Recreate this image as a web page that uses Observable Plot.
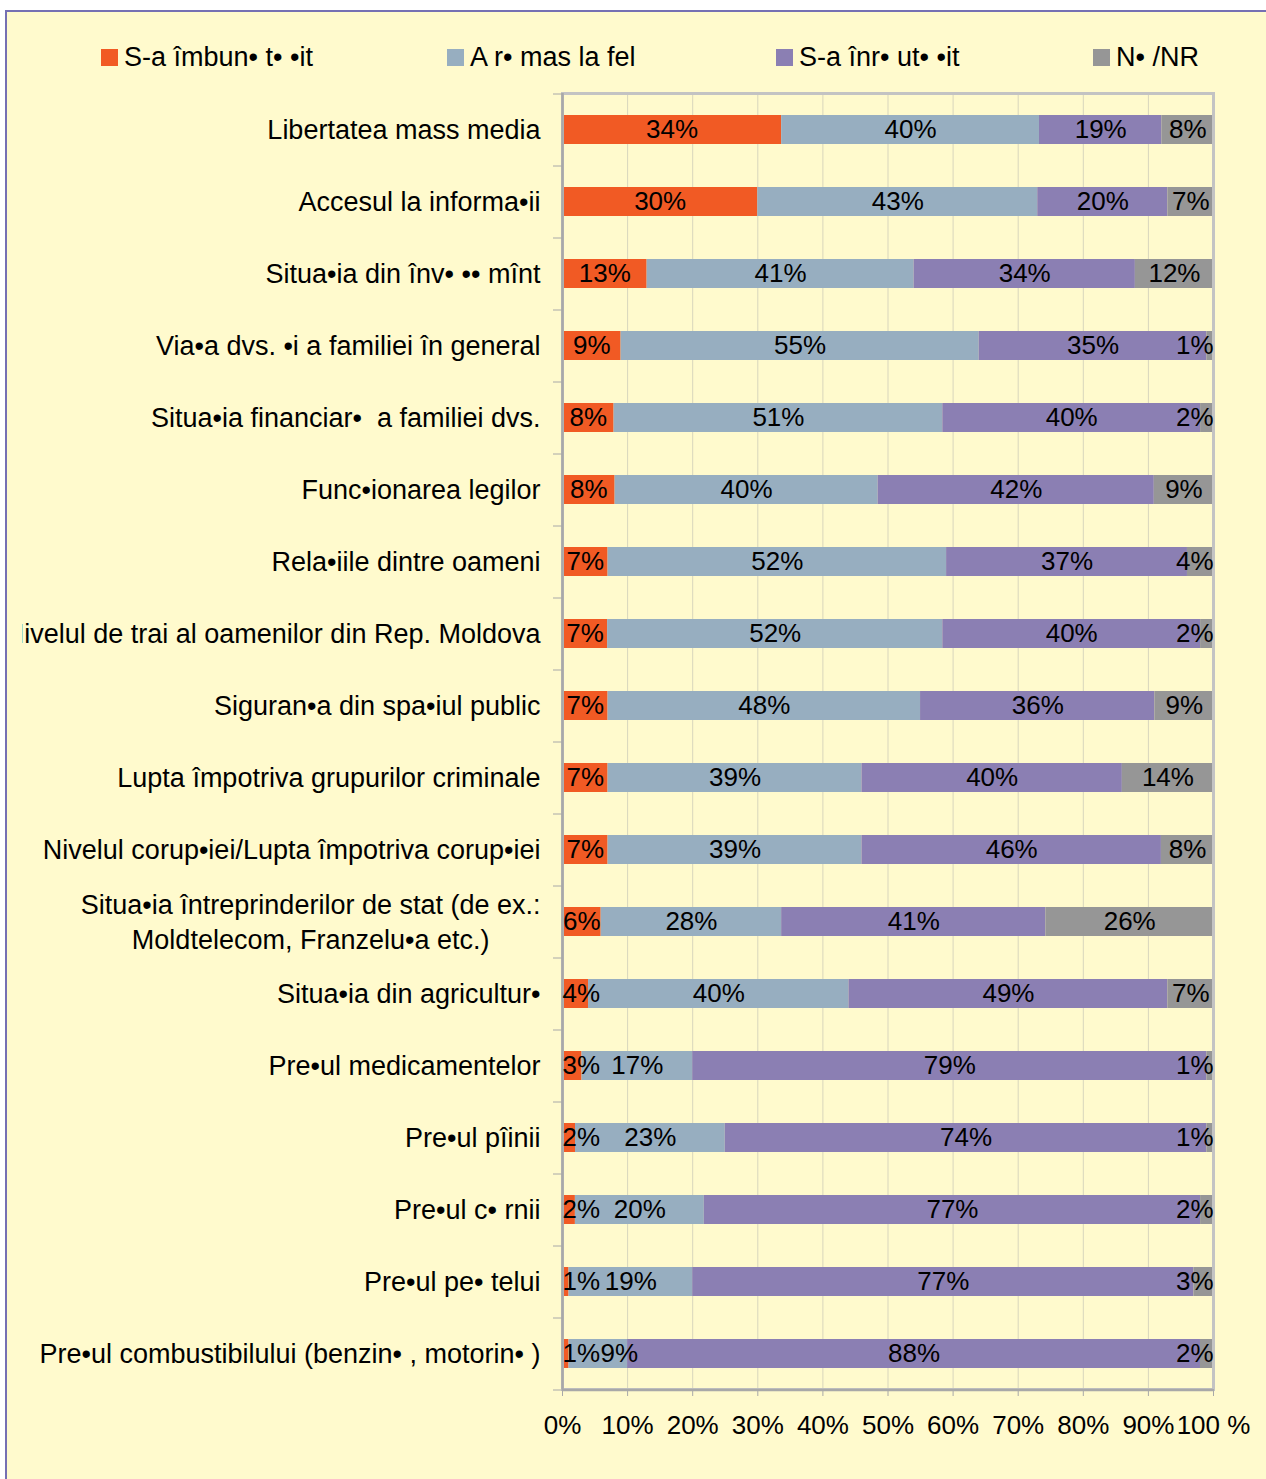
<!DOCTYPE html>
<html><head><meta charset="utf-8">
<script src="https://cdn.jsdelivr.net/npm/d3@7"></script>
<script src="https://cdn.jsdelivr.net/npm/@observablehq/plot@0.6"></script>
<style>
html,body{margin:0;padding:0;background:#fff;overflow:hidden;width:1266px;height:1479px;}
#frame{position:absolute;left:5px;top:10px;width:1320px;height:1520px;background:#FFFACD;border-left:2px solid #7570B3;border-top:2px solid #7570B3;font-family:"Liberation Sans",Arial,sans-serif;color:#000;}
#legend{position:absolute;left:0;top:30px;width:1260px;height:30px;font-size:27px;white-space:pre;line-height:30px;}
.item{position:absolute;top:0;display:flex;align-items:center;}
.sw{width:17px;height:17px;margin-right:6px;}
#chart{position:absolute;left:15px;top:70px;}
</style></head><body>
<div id="frame"><div id="legend"></div><div id="chart"></div></div>
<script>
const categories = [
  "Libertatea mass media",
  "Accesul la informa•ii",
  "Situa•ia din înv• •• mînt",
  "Via•a dvs. •i a familiei în general",
  "Situa•ia financiar•  a familiei dvs.",
  "Func•ionarea legilor",
  "Rela•iile dintre oameni",
  "Nivelul de trai al oamenilor din Rep. Moldova",
  "Siguran•a din spa•iul public",
  "Lupta împotriva grupurilor criminale",
  "Nivelul corup•iei/Lupta împotriva corup•iei",
  "Situa•ia întreprinderilor de stat (de ex.:\nMoldtelecom, Franzelu•a etc.)",
  "Situa•ia din agricultur•",
  "Pre•ul medicamentelor",
  "Pre•ul pîinii",
  "Pre•ul c• rnii",
  "Pre•ul pe• telui",
  "Pre•ul combustibilului (benzin• , motorin• )"
];
const seriesNames = ["S-a îmbun• t• •it", "A r• mas la fel", "S-a înr• ut• •it", "N• /NR"];
const improved = [34, 30, 13, 9, 8, 8, 7, 7, 7, 7, 7, 6, 4, 3, 2, 2, 1, 1];
const same     = [40, 43, 41, 55, 51, 40, 52, 52, 48, 39, 39, 28, 40, 17, 23, 20, 19, 9];
const worse    = [19, 20, 34, 35, 40, 42, 37, 40, 36, 40, 46, 41, 49, 79, 74, 77, 77, 88];
const dk       = [8, 7, 12, 1, 2, 9, 4, 2, 9, 14, 8, 26, 7, 1, 1, 2, 3, 2];
const colors = ["#F15A24", "#97AEC0", "#8B7FB3", "#969696"];
const xTicks = [0, 0.1, 0.2, 0.3, 0.4, 0.5, 0.6, 0.7, 0.8, 0.9, 1];
const xTickLabels = ["0%", "10%", "20%", "30%", "40%", "50%", "60%", "70%", "80%", "90%", "100 %"];
const legendLeft = [94, 440, 769, 1086];

// legend
const legend = document.getElementById("legend");
seriesNames.forEach((s, j) => {
  const it = document.createElement("div"); it.className = "item"; it.style.left = legendLeft[j] + "px";
  const sw = document.createElement("div"); sw.className = "sw"; sw.style.background = colors[j];
  const tx = document.createElement("span"); tx.textContent = s;
  it.appendChild(sw); it.appendChild(tx); legend.appendChild(it);
});

const W = 1244, H = 1397, mL = 540, mR = 53, mT = 11, mB = 90;
const plotW = W - mL - mR;
const ctx = document.createElement("canvas").getContext("2d");
function tw(s, size) { ctx.font = size + "px 'Liberation Sans', Arial, sans-serif"; return ctx.measureText(s).width; }

const series = [improved, same, worse, dk];
const rows = [];
categories.forEach((c, i) => {
  const vals = series.map(s => s[i]);
  const total = d3.sum(vals);
  let cum = 0, prevRight = -Infinity;
  vals.forEach((v, j) => {
    const x1 = cum / total; cum += v; const x2 = cum / total;
    const label = v + "%";
    const hw = tw(label, 26) / 2 / plotW;
    let mid = Math.min(Math.max((x1 + x2) / 2, hw), 1 - hw);
    if (mid - hw < prevRight) mid = prevRight + hw + 0.5 / plotW;
    prevRight = mid + hw;
    rows.push({cat: c, series: seriesNames[j], value: v, x1, x2, mid, label});
  });
});

const single = categories.filter(c => !c.includes("\n"));
const multi = categories.filter(c => c.includes("\n"));
const multiW = multi.length ? d3.max(multi[0].split("\n"), l => tw(l, 27)) : 0;

const chart = Plot.plot({
  width: W, height: H,
  marginLeft: mL, marginRight: mR, marginTop: mT, marginBottom: mB,
  style: {fontFamily: "'Liberation Sans', Arial, sans-serif", fontSize: "27px", background: "transparent", overflow: "hidden", color: "black"},
  x: {domain: [0, 1]},
  y: {domain: categories, paddingInner: 0.6, paddingOuter: 0.3, axis: null},
  color: {domain: seriesNames, range: colors},
  marks: [
    Plot.ruleX(xTicks.slice(1, -1), {stroke: "#D8D5BC", strokeWidth: 1}),
    Plot.barX(rows, {y: "cat", x1: "x1", x2: "x2", fill: "series"}),
    Plot.frame({stroke: "#C3C3C3", strokeWidth: 3}),
    Plot.ruleX([0], {stroke: "#A8A8A8", strokeWidth: 2.5}),
    Plot.ruleY([categories[categories.length - 1]], {dy: 36, stroke: "#A8A8A8", strokeWidth: 2.5}),
    Plot.ruleY(categories, {y: d => d, dy: -36, x1: -9 / plotW, x2: 0, stroke: "#A8A8A8", strokeWidth: 1}),
    Plot.ruleY([categories[categories.length - 1]], {y: d => d, dy: 36, x1: -9 / plotW, x2: 0, stroke: "#A8A8A8", strokeWidth: 1}),
    Plot.axisX({ticks: xTicks, tickFormat: d => xTickLabels[Math.round(d * 10)], tickSize: 7, tickPadding: 19, fontSize: 26, stroke: "#A8A8A8", fill: "black"}),
    Plot.text(rows, {x: "mid", y: "cat", text: "label", fontSize: 26, fill: "black"}),
    Plot.text(single, {x: 0, y: d => d, text: d => d, textAnchor: "end", dx: -22, fontSize: 27, fill: "black"}),
    Plot.text(multi, {x: 0, y: d => d, text: d => d, textAnchor: "middle", dx: -22 - multiW / 2, dy: -2, lineHeight: 1.3, fontSize: 27, fill: "black"})
  ]
});
document.getElementById("chart").appendChild(chart);
</script>
</body></html>
